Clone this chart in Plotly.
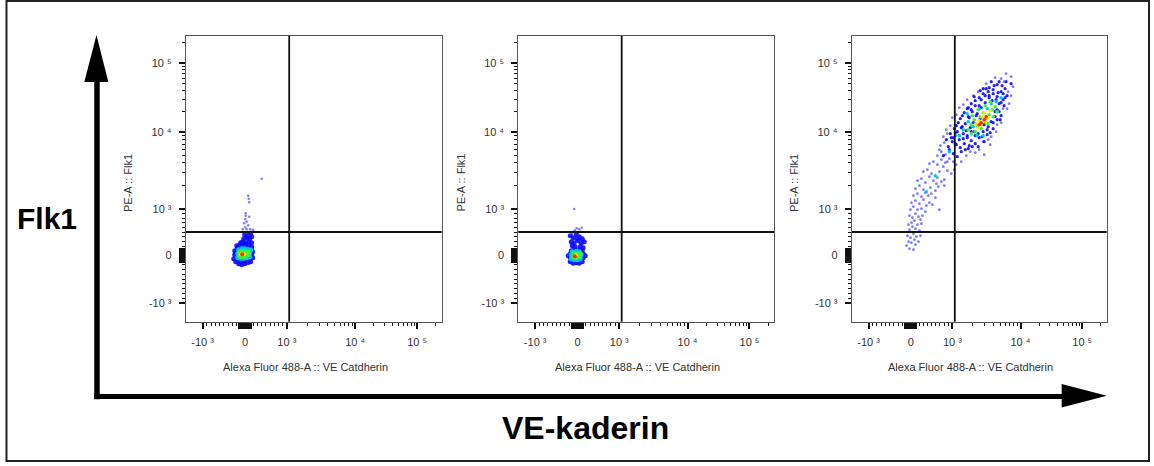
import numpy as np
import plotly.graph_objects as go

# ---------------------------------------------------------------------------
# DATA  (event positions in display channels of the biexponential axes:
#        x channel 0-256, y channel 0-286)
# ---------------------------------------------------------------------------
X_CHANNELS = 256
Y_CHANNELS = 286
GATE_X = 103.5          # quadrant gate, x channel
GATE_Y = 89.7           # quadrant gate, y channel

TICK_VALUES = [-1000, 0, 1000, 10000, 100000]
TICK_LABELS = ["-10 ³", "0", "10 ³", "10 ⁴", "10 ⁵"]

X_TITLE = "Alexa Fluor 488-A :: VE Catdherin"
Y_TITLE = "PE-A :: Flk1"
BIG_Y_LABEL = "Flk1"
BIG_X_LABEL = "VE-kaderin"

# ---- panel 1 ----
P1_SPARSE = [(76, 143), (62.5, 126), (63, 123), (63.5, 119.5), (60, 108.5), (60, 106), (59.5, 102.5),
             (61, 100), (58.5, 98.5), (62.5, 96.5), (63.5, 105), (57, 92.5), (61, 92.5), (64.5, 92.5),
             (67.5, 92), (59.5, 94.5), (62.5, 88.5), (66, 87), (58, 89), (65, 90)]
P1_BLUE = [(50, 60), (53, 58), (56, 57), (59, 58), (62, 59), (65, 60), (48, 63), (51, 62), (64, 62),
           (67, 64), (49, 67), (66, 67), (49, 71), (52, 74), (65, 71), (67, 70), (51, 76), (54, 77),
           (57, 76), (60, 77), (63, 76), (66, 75), (57, 80), (60, 79), (63, 80), (66, 79), (58, 83),
           (61, 84), (64, 83), (66, 85), (59, 87), (62, 86), (65, 88), (55, 60), (59, 61), (62, 62),
           (50, 69), (66, 73), (55, 79)]
P1_CYAN = [(52, 64), (55, 63.5), (58, 63.5), (61, 64), (64, 65), (52, 68), (64, 69), (53, 72), (56, 73),
           (59, 73), (62, 72.5), (65, 72)]
P1_GREEN = [(54, 65.5), (57, 65), (60, 65.5), (62.5, 67), (54, 69.5), (57, 70.5), (60, 70), (62.5, 70)]
P1_YELLOW = [(55, 67.5), (58.5, 67.5)]
P1_RED = [(56.5, 67.5)]

# ---- panel 2 ----
P2_SPARSE = [(56, 112.7), (58.5, 93.5), (61, 92.5), (63.5, 94), (56.5, 91.5), (62.5, 90), (54, 88), (60, 89)]
P2_BLUE = [(52, 86), (55, 84), (58, 87), (61, 85), (64, 83), (53, 80), (56, 79), (60, 81), (63, 78.5),
           (66, 80), (54, 76), (57, 75), (62, 75), (65, 74), (59, 83), (52, 60), (55, 58.5), (58, 59),
           (61, 58.5), (64, 60), (52, 64), (65, 64), (52, 68), (65, 68), (53, 71), (56, 72), (59, 71),
           (62, 72), (64, 71), (50, 66), (67, 66)]
P2_CYAN = [(53, 63), (56, 62), (59, 62), (62, 63), (53, 67), (63, 67), (54, 70), (58, 70.5), (61, 70)]
P2_GREEN = [(55, 64.5), (58, 64), (61, 65.5), (56, 68), (59, 68), (62, 68)]
P2_YELLOW = [(57.5, 66.5)]
P2_RED = [(56.5, 65.5)]

# ---- panel 3 ----
P3_SPARSE = [(55, 76), (58, 73), (62, 72), (57, 80), (60, 79), (64, 77), (67, 80), (56, 86), (59, 84),
             (62, 88), (65, 85), (58, 92), (61, 95), (64, 93), (68, 91), (57, 97), (60, 99), (66, 97),
             (70, 98), (63, 101), (58, 106), (61, 104), (64, 108), (67, 105), (71, 106), (59, 112),
             (62, 115), (66, 112), (70, 113), (74, 110), (60, 119), (64, 121), (68, 118), (72, 122),
             (78, 119), (81, 117), (62, 126), (66, 128), (70, 125), (74, 129), (77, 126), (84, 124),
             (88, 112), (64, 133), (68, 136), (72, 132), (79, 134), (84, 131), (87, 135), (93, 136),
             (66, 141), (70, 143), (74, 139), (78, 145), (82, 141), (86, 144), (90, 140), (93, 142),
             (72, 150), (76, 152), (80, 148), (88, 150), (92, 155), (96, 151), (100, 148), (103, 152),
             (78, 158), (82, 160), (86, 157), (90, 162), (94, 159), (98, 163), (102, 160), (105, 157),
             (86, 166), (90, 170), (94, 167), (133, 167), (128, 172), (115, 166), (119, 170), (89, 176),
             (93, 179), (92, 185), (96, 188), (95, 192), (99, 196), (101, 204), (105, 207), (108, 214),
             (112, 217), (116, 222), (122, 226), (127, 230), (135, 238), (144, 244), (150, 243),
             (160, 245), (155, 248), (162, 235), (160, 226), (158, 218), (156, 213), (152, 213),
             (132, 180), (137, 182), (140, 185), (146, 197), (150, 199), (153, 240), (157, 230),
             (63, 82), (69, 86), (69, 102), (75, 116), (80, 128), (85, 138), (96, 160), (88, 172),
             (110, 160), (124, 169), (139, 177), (145, 190)]
P3_BLUE = [(97, 175), (101, 180), (105, 177), (109, 174), (113, 178), (117, 173), (100, 184), (104, 189),
           (108, 186), (112, 183), (116, 186), (120, 181), (124, 178), (127, 175), (103, 193), (107, 199),
           (111, 195), (115, 191), (119, 194), (123, 190), (127, 188), (131, 185), (136, 187), (109, 203),
           (113, 209), (117, 205), (121, 210), (125, 206), (129, 203), (133, 197), (137, 195), (142, 193),
           (116, 213), (120, 218), (124, 221), (128, 216), (144, 205), (148, 210), (146, 212), (130, 222),
           (134, 226), (138, 224), (145, 222), (150, 219), (154, 224), (132, 233), (137, 230), (142, 232),
           (147, 229), (152, 228), (140, 240), (146, 237), (151, 236), (155, 240), (160, 238), (104, 178),
           (108, 182), (112, 188), (116, 184), (120, 190), (110, 194), (114, 198), (118, 204), (106, 190),
           (102, 184), (122, 199), (126, 208), (130, 214), (134, 219), (138, 226), (142, 228), (146, 225),
           (150, 230), (154, 233), (148, 218), (144, 210), (140, 200), (136, 192), (132, 190), (128, 184),
           (124, 186), (152, 222), (156, 226), (150, 206), (146, 202), (142, 199), (120, 212), (124, 216),
           (128, 224), (132, 228), (138, 234), (143, 236), (148, 240), (118, 176), (114, 172), (98, 172),
           (102, 168), (106, 165), (110, 170), (92, 166), (95, 182), (99, 188), (105, 196), (111, 206),
           (117, 214), (123, 225), (129, 231), (135, 233), (141, 221), (153, 216), (149, 202), (139, 189),
           (133, 180), (121, 175)]
P3_CYAN = [(75, 130), (84, 146), (98, 170), (108, 186), (112, 192), (117, 200), (122, 195), (128, 213),
           (136, 213), (140, 218), (145, 220), (116, 208), (126, 186), (150, 224), (104, 186), (132, 186)]
P3_GREEN = [(117, 192), (120, 197), (123, 202), (126, 196), (129, 205), (132, 209), (135, 203), (138, 207),
            (141, 212), (144, 215), (124, 190), (130, 193), (137, 198), (142, 205), (146, 210), (120, 188),
            (127, 212), (134, 216), (139, 220), (121, 206)]
P3_YELLOW = [(125, 198), (128, 201), (131, 205), (134, 200), (137, 204), (130, 197), (133, 209), (127, 194),
             (139, 211)]
P3_RED = [(130, 199), (133, 202), (135, 205), (128, 197)]

# ---------------------------------------------------------------------------
# helpers
# ---------------------------------------------------------------------------
W, H = 1154, 466
FONT = "Arial, Liberation Sans, DejaVu Sans, sans-serif"


def px(x):
    return x / W


def py(y):
    return 1 - y / H


# biexponential display: fraction of axis length for a fluorescence value
def display_frac(v):
    v = float(v)
    if v >= 1000:
        return float(np.interp(np.log10(v), [3, 4, 5, 6], [0.395, 0.662, 0.904, 1.146]))
    return float(np.interp(v, [-1000, 0, 1000], [0.066, 0.2315, 0.395]))


ZERO_BLOCK = [v for v in range(-140, 141, 10) if v != 0]
MINOR_VALUES = ([v for v in range(-900, -100, 100)] + [v for v in range(200, 1000, 100)] +
                [v for v in range(2000, 10000, 1000)] + [v for v in range(20000, 100000, 10000)] +
                [v for v in range(200000, 1000000, 100000)])


def axis_cfg(length, domain, anchor, standoff):
    major = [display_frac(v) * length for v in TICK_VALUES]
    minor = [display_frac(v) * length for v in MINOR_VALUES if 0 <= display_frac(v) * length <= length]
    return dict(domain=domain, anchor=anchor, range=[0, length], tickmode="array",
                tickvals=major, ticktext=TICK_LABELS, ticks="outside", ticklen=6, tickwidth=2,
                tickcolor="#111", showline=True, linecolor="#555", linewidth=1, mirror=True,
                showgrid=False, zeroline=False, fixedrange=True, ticklabelstandoff=standoff,
                tickfont=dict(size=11, color="#333", family=FONT),
                minor=dict(tickmode="array", tickvals=minor, ticks="outside", ticklen=3,
                           tickwidth=1, tickcolor="#111", showgrid=False))


def block_axis_cfg(length, overlay, anchor, side):
    # the dense tick block of the linear region around zero (ticks only, no labels)
    vals = [display_frac(v) * length for v in ZERO_BLOCK]
    return dict(overlaying=overlay, anchor=anchor, side=side, range=[0, length], tickmode="array",
                tickvals=vals, ticks="outside", ticklen=6, tickwidth=1.5, tickcolor="#111",
                showticklabels=False, showline=False, showgrid=False, zeroline=False, fixedrange=True)


FRAMES_X = [(185.7, 441.7), (518.3, 774.0), (851.7, 1106.7)]
FRAME_TOP, FRAME_BOTTOM = 35.7, 321.7

LEVEL_STYLE = {
    "sparse": dict(color="#4646ff", opacity=0.7),
    "blue": dict(color="#0a0aff", opacity=0.9),
    "cyan": dict(color="#00c4f0", opacity=1.0),
    "green": dict(color="#3ef03a", opacity=1.0),
    "yellow": dict(color="#f7e400", opacity=1.0),
    "red": dict(color="#ff2a00", opacity=1.0),
}

PANELS = [
    dict(sparse=P1_SPARSE, blue=P1_BLUE, cyan=P1_CYAN, green=P1_GREEN, yellow=P1_YELLOW, red=P1_RED),
    dict(sparse=P2_SPARSE, blue=P2_BLUE, cyan=P2_CYAN, green=P2_GREEN, yellow=P2_YELLOW, red=P2_RED),
    dict(sparse=P3_SPARSE, blue=P3_BLUE, cyan=P3_CYAN, green=P3_GREEN, yellow=P3_YELLOW, red=P3_RED),
]
SIZES = [
    dict(sparse=2.6, blue=5, cyan=5, green=5, yellow=4, red=4),
    dict(sparse=2.6, blue=5, cyan=5, green=5, yellow=4, red=4),
    dict(sparse=2.8, blue=3.2, cyan=3.4, green=3.6, yellow=3.6, red=3.6),
]

fig = go.Figure()
layout_axes = {}
shapes = []
annotations = []

for i, (panel, sizes, (fx0, fx1)) in enumerate(zip(PANELS, SIZES, FRAMES_X), start=1):
    sx = "" if i == 1 else str(i)
    xa, ya = "x" + sx, "y" + sx
    layout_axes["xaxis" + sx] = axis_cfg(X_CHANNELS, [px(fx0), px(fx1)], ya, 4)
    layout_axes["yaxis" + sx] = axis_cfg(Y_CHANNELS, [py(FRAME_BOTTOM), py(FRAME_TOP)], xa, 5)
    bx = str(i + 3)
    layout_axes["xaxis" + bx] = block_axis_cfg(X_CHANNELS, xa, ya, "bottom")
    layout_axes["yaxis" + bx] = block_axis_cfg(Y_CHANNELS, ya, xa, "left")
    for level in ["sparse", "blue", "cyan", "green", "yellow", "red"]:
        pts = panel[level]
        st = LEVEL_STYLE[level]
        fig.add_trace(go.Scatter(
            x=[p[0] for p in pts], y=[p[1] for p in pts], xaxis=xa, yaxis=ya,
            mode="markers", hoverinfo="skip", showlegend=False,
            marker=dict(size=sizes[level], color=st["color"], opacity=st["opacity"],
                        line=dict(width=0), symbol="circle")))
    # invisible trace to activate the tick-block axes
    fig.add_trace(go.Scatter(x=[None], y=[None], xaxis="x" + bx, yaxis="y" + bx, mode="markers",
                             hoverinfo="skip", showlegend=False))
    # quadrant gate lines
    shapes.append(dict(type="line", xref=xa, yref=ya + " domain", x0=GATE_X, x1=GATE_X, y0=0, y1=1,
                       line=dict(color="#111", width=1.8)))
    shapes.append(dict(type="line", xref=xa + " domain", yref=ya, x0=0, x1=1, y0=GATE_Y, y1=GATE_Y,
                       line=dict(color="#111", width=1.8)))
    # axis titles
    annotations.append(dict(text=X_TITLE, xref="paper", yref="paper", x=px((fx0 + fx1) / 2 - 8.5),
                            y=py(367), showarrow=False, xanchor="center", yanchor="middle",
                            font=dict(size=11, color="#333", family=FONT)))
    annotations.append(dict(text=Y_TITLE, xref="paper", yref="paper", x=px(fx0 - 57.7), y=py(183),
                            showarrow=False, textangle=-90, xanchor="center", yanchor="middle",
                            font=dict(size=11, color="#333", family=FONT)))

# outer border
shapes.append(dict(type="rect", xref="paper", yref="paper", x0=px(6.5), x1=px(1149), y0=py(461),
                   y1=py(1), line=dict(color="#222", width=2)))
# big arrows
shapes.append(dict(type="line", xref="paper", yref="paper", x0=px(97), x1=px(97), y0=py(399.3),
                   y1=py(80), line=dict(color="black", width=5.5)))
shapes.append(dict(type="path", xref="paper", yref="paper",
                   path=f"M {px(84.3)},{py(82)} L {px(108.3)},{py(82)} L {px(96.5)},{py(35)} Z",
                   fillcolor="black", line=dict(color="black", width=0)))
shapes.append(dict(type="line", xref="paper", yref="paper", x0=px(94.3), x1=px(1064), y0=py(396.6),
                   y1=py(396.6), line=dict(color="black", width=5)))
shapes.append(dict(type="path", xref="paper", yref="paper",
                   path=f"M {px(1061.7)},{py(384)} L {px(1061.7)},{py(407.5)} L {px(1106.7)},{py(395.8)} Z",
                   fillcolor="black", line=dict(color="black", width=0)))

annotations.append(dict(text=f"<b>{BIG_Y_LABEL}</b>", xref="paper", yref="paper", x=px(47), y=py(218),
                        showarrow=False, xanchor="center", yanchor="middle",
                        font=dict(size=30, color="black", family=FONT)))
annotations.append(dict(text=f"<b>{BIG_X_LABEL}</b>", xref="paper", yref="paper", x=px(585), y=py(428),
                        showarrow=False, xanchor="center", yanchor="middle",
                        font=dict(size=32, color="black", family=FONT)))

fig.update_layout(width=W, height=H, margin=dict(l=0, r=0, t=0, b=0), paper_bgcolor="white",
                  plot_bgcolor="white", showlegend=False, shapes=shapes, annotations=annotations,
                  **layout_axes)

fig.write_html("out.html", config={"displayModeBar": False, "staticPlot": True},
               post_script="document.body.style.margin='0';document.body.style.overflow='hidden';")
